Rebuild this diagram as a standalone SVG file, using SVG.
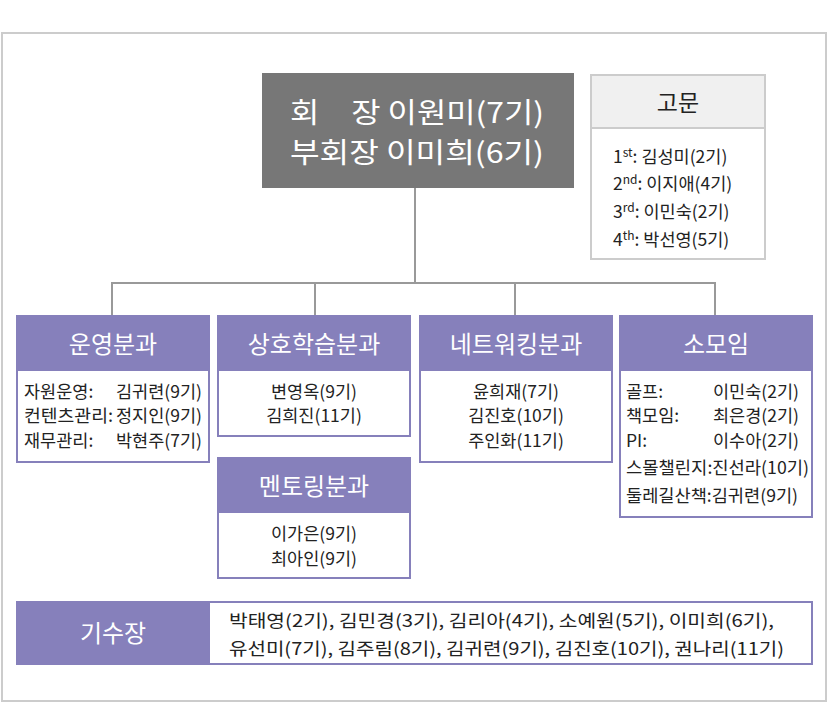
<svg xmlns="http://www.w3.org/2000/svg" width="828" height="703" viewBox="0 0 828 703">
<style>
text{font-family:"Noto Sans CJK KR","Noto Sans",sans-serif;fill:#222}
.h{fill:#fff;font-size:24px;text-anchor:middle}
.b{font-size:17.5px}
.c{text-anchor:middle}
.box{fill:#fff;stroke:#8680bb;stroke-width:2}
.hd{fill:#8680bb}
.ln{stroke:#999;stroke-width:2;fill:none}
</style>
<rect x="0" y="0" width="828" height="703" fill="#fff"/>
<rect x="2" y="33" width="824" height="668" fill="#fff" stroke="#ccc" stroke-width="2"/>
<g id="connectors">
<path class="ln" d="M415 188V283M112 315V283H715V315M315 283V315M515 283V315"/>
</g>
<g id="top">
<rect x="262" y="73" width="312" height="115" fill="#777"/>
<text x="290" y="123" style="font-size:28px;fill:#fff" textLength="254" lengthAdjust="spacingAndGlyphs">회　장 이원미(7기)</text>
<text x="290" y="163" style="font-size:28px;fill:#fff" textLength="254" lengthAdjust="spacingAndGlyphs">부회장 이미희(6기)</text>
</g>
<g id="advisor">
<rect x="591" y="75" width="174" height="184" fill="#fff" stroke="#ccc" stroke-width="2"/>
<rect x="592" y="76" width="172" height="52" fill="#f0f0f0"/>
<line x1="591" y1="128" x2="765" y2="128" stroke="#ccc" stroke-width="2"/>
<text x="678" y="111" class="c" style="font-size:23px">고문</text>
<text x="613" y="163" class="b">1<tspan font-size="12" dy="-6">st</tspan><tspan dy="6">: 김성미(2기)</tspan></text>
<text x="613" y="190" class="b">2<tspan font-size="12" dy="-6">nd</tspan><tspan dy="6">: 이지애(4기)</tspan></text>
<text x="613" y="218" class="b">3<tspan font-size="12" dy="-6">rd</tspan><tspan dy="6">: 이민숙(2기)</tspan></text>
<text x="613" y="246" class="b">4<tspan font-size="12" dy="-6">th</tspan><tspan dy="6">: 박선영(5기)</tspan></text>
</g>
<g id="ops">
<rect class="box" x="17" y="316" width="192" height="146"/>
<rect class="hd" x="16" y="315" width="194" height="56"/>
<text x="113" y="353" class="h">운영분과</text>
<text x="24" y="398" class="b">자원운영:</text><text x="116" y="398" class="b">김귀련(9기)</text>
<text x="24" y="422" class="b" textLength="89" lengthAdjust="spacingAndGlyphs">컨텐츠관리:</text><text x="116" y="422" class="b">정지인(9기)</text>
<text x="24" y="447" class="b">재무관리:</text><text x="116" y="447" class="b">박현주(7기)</text>
</g>
<g id="mutual">
<rect class="box" x="218" y="316" width="192" height="120"/>
<rect class="hd" x="217" y="315" width="194" height="56"/>
<text x="314" y="353" class="h">상호학습분과</text>
<text x="314" y="398" class="b c">변영옥(9기)</text>
<text x="314" y="422" class="b c">김희진(11기)</text>
</g>
<g id="mentoring">
<rect class="box" x="218" y="458" width="192" height="120"/>
<rect class="hd" x="217" y="457" width="194" height="56"/>
<text x="314" y="495" class="h">멘토링분과</text>
<text x="314" y="540" class="b c">이가은(9기)</text>
<text x="314" y="565" class="b c">최아인(9기)</text>
</g>
<g id="network">
<rect class="box" x="420" y="316" width="192" height="146"/>
<rect class="hd" x="419" y="315" width="194" height="56"/>
<text x="516" y="353" class="h">네트워킹분과</text>
<text x="516" y="398" class="b c">윤희재(7기)</text>
<text x="516" y="422" class="b c">김진호(10기)</text>
<text x="516" y="447" class="b c">주인화(11기)</text>
</g>
<g id="small">
<rect class="box" x="620" y="316" width="192" height="201"/>
<rect class="hd" x="619" y="315" width="194" height="56"/>
<text x="716" y="353" class="h">소모임</text>
<text x="626" y="398" class="b">골프:</text><text x="713" y="398" class="b">이민숙(2기)</text>
<text x="626" y="422" class="b">책모임:</text><text x="713" y="422" class="b">최은경(2기)</text>
<text x="626" y="447" class="b">PI:</text><text x="713" y="447" class="b">이수아(2기)</text>
<text x="626" y="474" class="b" textLength="183" lengthAdjust="spacingAndGlyphs">스몰챌린지:진선라(10기)</text>
<text x="626" y="502" class="b" textLength="172" lengthAdjust="spacingAndGlyphs">둘레길산책:김귀련(9기)</text>
</g>
<g id="leaders">
<rect class="box" x="17" y="602" width="795" height="62"/>
<rect class="hd" x="16" y="601" width="194" height="64"/>
<text x="113" y="642" class="h">기수장</text>
<text x="229" y="627" class="b" textLength="545" lengthAdjust="spacingAndGlyphs">박태영(2기), 김민경(3기), 김리아(4기), 소예원(5기), 이미희(6기),</text>
<text x="229" y="655" class="b" textLength="555" lengthAdjust="spacingAndGlyphs">유선미(7기), 김주림(8기), 김귀련(9기), 김진호(10기), 권나리(11기)</text>
</g>
</svg>
